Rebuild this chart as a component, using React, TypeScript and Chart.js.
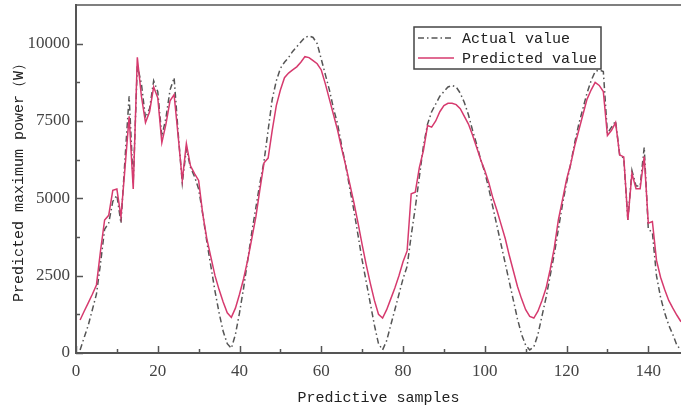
import { useEffect, useRef } from "react";
import { Chart, registerables } from "chart.js";

Chart.register(...registerables);

const actualValues = [
  100, 500, 900, 1400, 1900, 2900, 4000, 4200, 4900, 5100,
  4200, 6300, 8300, 5500, 9300, 8700, 7600, 7900, 8800, 8450,
  7000, 7600, 8500, 8900, 7100, 5500, 6600, 6000, 5700, 5300,
  4500, 3600, 2800, 2000, 1300, 700, 300, 150, 600, 1300,
  2100, 3000, 3900, 4700, 5500, 6200, 7200, 8200, 8800, 9200,
  9400, 9550, 9750, 9900, 10050, 10200, 10250, 10200, 10000, 9500,
  9000, 8500, 7900, 7400, 6700, 6050, 5300, 4600, 3800, 3000,
  2300, 1600, 900, 300, 100, 400, 900, 1400, 1900, 2400,
  2800, 3800, 4700, 5700, 6700, 7400, 7800, 8050, 8300, 8450,
  8600, 8650, 8600, 8400, 8100, 7700, 7200, 6750, 6250, 5850,
  5300, 4700, 4100, 3500, 2900, 2300, 1700, 1100, 600, 250,
  100, 200, 600, 1200, 1800, 2500, 3200, 4000, 4800, 5500,
  6100, 6800, 7400, 7900, 8400, 8800, 9100, 9150, 9100, 7100,
  7300, 7500, 6400, 6300, 4300, 5900, 5400, 5400, 6650, 4000,
  3900, 2500, 1800, 1300, 900, 600, 250, 100,
];

const predictedValues = [
  1065, 1350, 1620, 1900, 2200, 3300, 4300, 4450, 5260, 5300,
  4400, 6000, 7650, 5300, 9560, 8300, 7450, 7800, 8600, 8250,
  6800, 7400, 8150, 8350, 7000, 5580, 6770, 6050, 5800, 5580,
  4500, 3700, 3100, 2500, 2050, 1650, 1300, 1150, 1450, 1900,
  2400, 3000, 3700, 4400, 5300, 6150, 6300, 7200, 8000, 8500,
  8900, 9050, 9150, 9250, 9400, 9580, 9550, 9450, 9350, 9150,
  8700, 8200, 7700, 7200, 6600, 6050, 5450, 4850, 4200, 3500,
  2850, 2250, 1700, 1250, 1130, 1400, 1750, 2100, 2500, 2950,
  3300, 5150, 5200, 6000, 6550, 7350, 7300, 7500, 7800, 8000,
  8070, 8070, 8030, 7900, 7650, 7400, 7050, 6650, 6250, 5900,
  5500, 5000, 4600, 4150, 3700, 3150, 2650, 2150, 1750, 1400,
  1180, 1130, 1350, 1700, 2100, 2700, 3400, 4300, 4950, 5600,
  6100, 6700, 7200, 7700, 8200, 8500, 8750, 8650, 8450, 7030,
  7200, 7450, 6400, 6340, 4300, 5800, 5310, 5310, 6350, 4200,
  4250, 3000, 2450, 2050, 1700, 1450, 1220, 1010,
];

const xTickLabels = [0, 20, 40, 60, 80, 100, 120, 140];
const yTickLabels = [0, 2500, 5000, 7500, 10000];
const legendLabels = ["Actual value", "Predicted value"];

const AXIS_COLOR = "#555";
const PRED_COLOR = "#d63a6e";
const ACT_COLOR = "#555";
const MONO = "'Liberation Mono', monospace";
const SERIF = "'Liberation Serif', serif";

const framePlugin = {
  id: "framePlugin",
  afterDraw(chart: any) {
    const { ctx, chartArea, scales } = chart;
    const xs = scales.x;
    const ys = scales.y;
    ctx.save();
    ctx.strokeStyle = AXIS_COLOR;
    ctx.lineWidth = 1.5;
    ctx.beginPath();
    ctx.moveTo(chartArea.left, chartArea.top);
    ctx.lineTo(chartArea.right, chartArea.top);
    ctx.stroke();
    for (let v = 0; v <= 140; v += 10) {
      const px = Math.round(xs.getPixelForValue(v)) + 0.5;
      const len = v % 20 === 0 ? 7 : 4;
      ctx.beginPath();
      ctx.moveTo(px, chartArea.bottom);
      ctx.lineTo(px, chartArea.bottom - len);
      ctx.stroke();
    }
    for (let v = 0; v <= 10000; v += 1250) {
      const py = Math.round(ys.getPixelForValue(v)) + 0.5;
      const len = v % 2500 === 0 ? 7 : 4;
      ctx.beginPath();
      ctx.moveTo(chartArea.left, py);
      ctx.lineTo(chartArea.left + len, py);
      ctx.stroke();
    }
    const bx = 414, by = 27, bw = 187, bh = 42;
    ctx.fillStyle = "#fff";
    ctx.fillRect(bx, by, bw, bh);
    ctx.strokeStyle = "#444";
    ctx.lineWidth = 1.5;
    ctx.strokeRect(bx, by, bw, bh);
    const rows = [
      { y: 38, color: ACT_COLOR, dash: [6, 3, 1.5, 3], width: 1.5 },
      { y: 58, color: PRED_COLOR, dash: [], width: 1.5 },
    ];
    rows.forEach((r, i) => {
      ctx.beginPath();
      ctx.setLineDash(r.dash);
      ctx.strokeStyle = r.color;
      ctx.lineWidth = r.width;
      ctx.moveTo(bx + 4, r.y);
      ctx.lineTo(bx + 40, r.y);
      ctx.stroke();
      ctx.setLineDash([]);
      ctx.fillStyle = "#222";
      ctx.font = `15px ${MONO}`;
      ctx.textAlign = "left";
      ctx.textBaseline = "middle";
      ctx.fillText(legendLabels[i], bx + 48, r.y + 1);
    });
    ctx.restore();
  },
};

export default function App() {
  const ref = useRef<HTMLCanvasElement | null>(null);
  useEffect(() => {
    if (!ref.current) return;
    const chart = new Chart(ref.current, {
      type: "line",
      data: {
        datasets: [
          {
            label: legendLabels[1],
            data: predictedValues.map((v, i) => ({ x: i + 1, y: v })),
            borderColor: PRED_COLOR,
            borderWidth: 1.5,
            pointRadius: 0,
            tension: 0,
            fill: false,
          },
          {
            label: legendLabels[0],
            data: actualValues.map((v, i) => ({ x: i + 1, y: v })),
            borderColor: ACT_COLOR,
            borderWidth: 1.5,
            borderDash: [6, 3, 1.5, 3],
            pointRadius: 0,
            tension: 0,
            fill: false,
          },
        ],
      },
      options: {
        animation: false,
        responsive: false,
        layout: { padding: { top: 5, right: 0, left: 0, bottom: 0 } },
        plugins: { legend: { display: false }, tooltip: { enabled: false } },
        scales: {
          x: {
            type: "linear",
            min: 0,
            max: 148,
            afterBuildTicks: (s: any) => {
              s.ticks = xTickLabels.map((v) => ({ value: v }));
            },
            afterFit: (s: any) => {
              s.height = 59;
              s.paddingLeft = 0;
              s.paddingRight = 0;
            },
            grid: { display: false, drawTicks: false },
            border: { display: true, color: AXIS_COLOR, width: 2 },
            ticks: {
              autoSkip: false,
              maxRotation: 0,
              padding: 8,
              color: "#444",
              font: { family: SERIF, size: 17 },
              callback: (v: any) => String(v),
            },
            title: {
              display: true,
              text: "Predictive samples",
              color: "#222",
              font: { family: MONO, size: 15 },
              padding: { top: 0, bottom: 5 },
            },
          },
          y: {
            type: "linear",
            min: 0,
            max: 11250,
            afterBuildTicks: (s: any) => {
              s.ticks = yTickLabels.map((v) => ({ value: v }));
            },
            afterFit: (s: any) => {
              s.width = 76;
              s.paddingTop = 0;
              s.paddingBottom = 0;
            },
            grid: { display: false, drawTicks: false },
            border: { display: true, color: AXIS_COLOR, width: 2 },
            ticks: {
              autoSkip: false,
              padding: 6,
              color: "#444",
              font: { family: SERIF, size: 17 },
              callback: (v: any) => String(v),
            },
            title: {
              display: true,
              text: "Predicted maximum power（W）",
              color: "#222",
              font: { family: MONO, size: 15 },
              padding: { top: 10, bottom: 0 },
            },
          },
        },
      },
      plugins: [framePlugin],
    });
    return () => chart.destroy();
  }, []);
  return (
    <div style={{ position: "fixed", left: 0, top: 0, width: 681, height: 412, background: "#fff" }}>
      <canvas ref={ref} width={681} height={412} style={{ display: "block" }} />
    </div>
  );
}
